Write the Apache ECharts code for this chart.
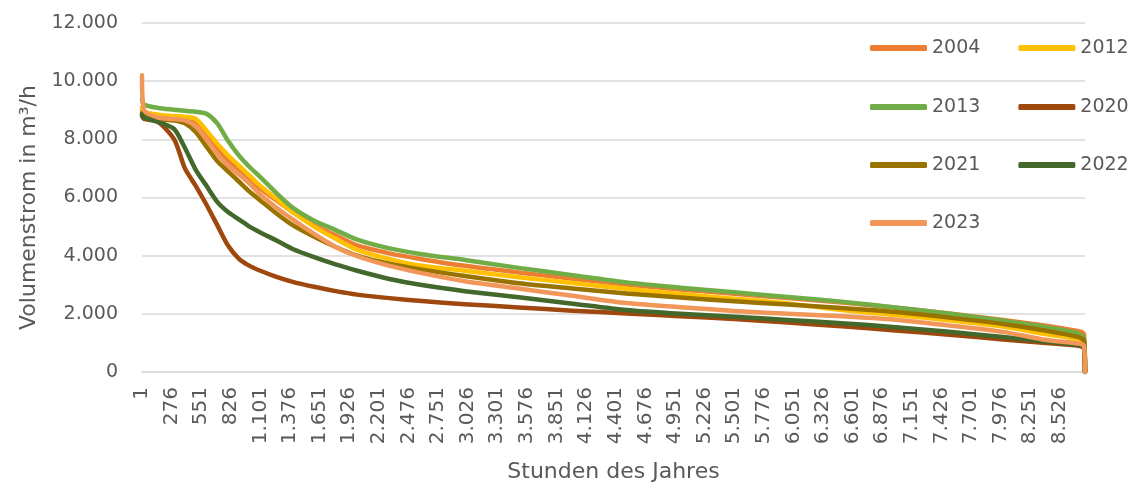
<!DOCTYPE html>
<html lang="de">
<head>
<meta charset="utf-8">
<title>Volumenstrom – geordnete Jahresdauerlinien</title>
<script src="https://cdn.jsdelivr.net/npm/echarts@6/dist/echarts.min.js"></script>
<style>
  html, body { margin: 0; padding: 0; background: #ffffff; }
  #chart { width: 1131px; height: 488px; }
</style>
</head>
<body>
<div id="chart"></div>
<script>
// Stunden des Jahres (sortiert nach Volumenstrom), Stützstellen der Dauerlinien
const hours = [1, 20, 150, 300, 400, 500, 600, 700, 800, 900, 1000, 1100, 1250, 1400, 1600,
  1800, 2000, 2300, 2600, 3000, 3500, 4000, 4500, 5000, 5500, 6000, 6500, 7000, 7500,
  8000, 8400, 8700, 8750, 8760];

// Volumenstrom in m³/h je Jahr
const y2004 = [9000, 8900, 8800, 8750, 8700, 8600, 8200, 7700, 7300, 6950, 6600, 6300, 5900, 5500, 5050,
  4700, 4350, 4080, 3880, 3650, 3420, 3210, 3010, 2840, 2690, 2540, 2390, 2210, 2010,
  1790, 1590, 1400, 1300, 0];
const y2012 = [9100, 8950, 8850, 8800, 8780, 8700, 8300, 7850, 7450, 7100, 6750, 6400, 5950, 5500, 5000,
  4580, 4200, 3880, 3650, 3480, 3260, 3060, 2860, 2680, 2520, 2360, 2130, 1960, 1780,
  1560, 1300, 1120, 1000, 0];
const y2013 = [9400, 9200, 9080, 9020, 8980, 8950, 8880, 8550, 7950, 7450, 7050, 6700, 6150, 5650, 5200,
  4880, 4550, 4250, 4050, 3850, 3580, 3330, 3080, 2900, 2740, 2580, 2420, 2220, 2000,
  1760, 1540, 1320, 1150, 0];
const y2020 = [8800, 8700, 8600, 8000, 7000, 6400, 5750, 5050, 4350, 3900, 3650, 3480, 3270, 3100, 2930,
  2780, 2660, 2540, 2440, 2330, 2220, 2110, 2010, 1920, 1820, 1700, 1570, 1430, 1280,
  1120, 1000, 900, 820, 0];
const y2021 = [8900, 8800, 8700, 8650, 8550, 8250, 7750, 7250, 6900, 6550, 6200, 5900, 5450, 5050, 4650,
  4300, 4000, 3720, 3520, 3300, 3050, 2870, 2700, 2560, 2430, 2320, 2200, 2060, 1870,
  1650, 1420, 1200, 1080, 0];
const y2022 = [8850, 8750, 8600, 8350, 7700, 6950, 6400, 5850, 5500, 5250, 5000, 4800, 4520, 4230, 3950,
  3700, 3480, 3200, 2990, 2780, 2570, 2350, 2130, 2000, 1900, 1790, 1680, 1540, 1380,
  1200, 1050, 930, 850, 0];
const y2023 = [10200, 9000, 8750, 8700, 8650, 8450, 8000, 7500, 7100, 6800, 6480, 6100, 5650, 5250, 4750,
  4300, 3980, 3650, 3400, 3120, 2870, 2620, 2370, 2230, 2100, 2000, 1920, 1800, 1600,
  1380, 1100, 980, 900, 0];

const years = ['2004', '2012', '2013', '2020', '2021', '2022', '2023'];
const yearValues = [y2004, y2012, y2013, y2020, y2021, y2022, y2023];
const yearColors = ['#ED7D31', '#FFC000', '#70AD47', '#9E480E', '#997300', '#43682B', '#F1975A'];

// Beschriftete Stunden auf der x-Achse
const hourTicks = [1, 276, 551, 826, 1101, 1376, 1651, 1926, 2201, 2476, 2751, 3026, 3301, 3576,
  3851, 4126, 4401, 4676, 4951, 5226, 5501, 5776, 6051, 6326, 6601, 6876, 7151, 7426,
  7701, 7976, 8251, 8526];

// Legendenzeilen (zwei Spalten)
const legendRows = [['2004', '2012'], ['2013', '2020'], ['2021', '2022'], ['2023']];

const FONT = 'DejaVu Sans';
const TEXT = '#595959';
const GRID = '#D9D9D9';

// Tausendertrennzeichen im deutschen Format
function de(v) {
  return String(Math.round(v)).replace(/\B(?=(\d{3})+(?!\d))/g, '.');
}

const series = years.map((name, i) => ({
  name: name,
  type: 'line',
  data: hours.map((h, k) => [h, yearValues[i][k]]),
  showSymbol: false,
  smooth: 0.25,
  color: yearColors[i],
  lineStyle: { width: 4.5, cap: 'round', join: 'round' },
  z: 2 + i
}));

const legendTops = [37, 96, 154, 212];
const legends = legendRows.map((row, r) => ({
  data: row,
  left: 870,
  top: legendTops[r],
  width: 320,
  orient: 'horizontal',
  icon: 'roundRect',
  itemWidth: 57,
  itemHeight: 6,
  itemGap: 38,
  padding: 0,
  selectedMode: false,
  textStyle: { fontFamily: FONT, fontSize: 19, color: TEXT, lineHeight: 22 }
}));

const chart = echarts.init(document.getElementById('chart'), null, { renderer: 'canvas' });
chart.setOption({
  animation: false,
  backgroundColor: '#ffffff',
  textStyle: { fontFamily: FONT },
  grid: { left: 142, right: 46, top: 23, bottom: 111, containLabel: false },
  legend: legends,
  xAxis: {
    type: 'value',
    min: 1,
    max: 8760,
    name: 'Stunden des Jahres',
    nameLocation: 'middle',
    nameGap: 89,
    nameTextStyle: { fontFamily: FONT, fontSize: 22, color: TEXT },
    axisLine: { show: true, lineStyle: { color: GRID, width: 1.5 } },
    axisTick: { show: false },
    splitLine: { show: false },
    axisLabel: {
      customValues: hourTicks,
      rotate: 90,
      margin: 15,
      fontFamily: FONT,
      fontSize: 20,
      color: TEXT,
      hideOverlap: false,
      formatter: de
    }
  },
  yAxis: {
    type: 'value',
    min: 0,
    max: 12000,
    interval: 2000,
    name: 'Volumenstrom in m³/h',
    nameLocation: 'middle',
    nameGap: 100,
    nameTextStyle: { fontFamily: FONT, fontSize: 22, color: TEXT, padding: [0, 20, 0, 0] },
    axisLine: { show: false },
    axisTick: { show: false },
    splitLine: { show: true, lineStyle: { color: GRID, width: 1.5 } },
    axisLabel: { margin: 24, fontFamily: FONT, fontSize: 19, color: TEXT, formatter: de }
  },
  series: series
});
</script>
</body>
</html>
